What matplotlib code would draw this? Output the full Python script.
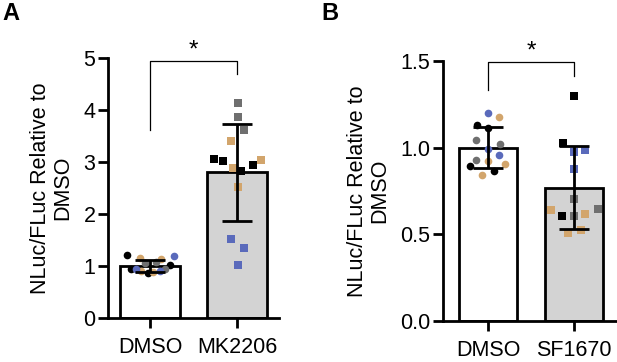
import matplotlib
matplotlib.use('Agg')
import matplotlib.pyplot as plt
import numpy as np

plt.rcParams['font.family'] = ['Liberation Sans', 'DejaVu Sans']

# colours of the replicate groups
BLACK = '#000000'
TAN = '#d2a56c'
GRAY = '#6f6f6f'
BLUE = '#5a6abb'
BAR_GRAY = '#d3d3d3'

# ---- panel A data ----
a_groups = ['DMSO', 'MK2206']
a_mean = [1.0, 2.80]
a_sd = [0.12, 0.93]
a_dmso_y = [1.22, 0.94, 0.86, 1.01, 1.15, 1.13, 0.91, 0.88, 1.05, 1.07, 0.94, 1.20, 0.94, 0.91]
a_dmso_dx = [-0.27, -0.22, -0.02, 0.23, -0.12, 0.13, -0.10, 0.04, -0.06, 0.07, 0.17, 0.28, -0.16, 0.11]
a_dmso_c = [BLACK] * 4 + [TAN] * 4 + [GRAY] * 3 + [BLUE] * 3
a_mk_y = [4.13, 3.87, 3.62, 3.41, 2.89, 3.04, 2.51, 3.05, 3.01, 2.83, 2.94, 1.52, 1.34, 1.02]
a_mk_dx = [0.01, 0.01, 0.08, -0.07, -0.05, 0.28, 0.01, -0.27, -0.16, 0.05, 0.18, -0.07, 0.08, 0.01]
a_mk_c = [GRAY] * 3 + [TAN] * 4 + [BLACK] * 4 + [BLUE] * 3

# ---- panel B data ----
b_groups = ['DMSO', 'SF1670']
b_mean = [1.0, 0.77]
b_sd = [0.118, 0.242]
b_dmso_y = [1.199, 0.994, 0.956, 1.176, 0.921, 0.908, 0.845, 1.128, 1.113, 0.892, 0.864, 1.042, 1.023, 0.927]
b_dmso_dx = [0.0, 0.0, 0.13, 0.13, 0.0, 0.20, -0.07, -0.13, 0.0, -0.21, 0.07, -0.14, 0.14, -0.14]
b_dmso_c = [BLUE] * 3 + [TAN] * 4 + [BLACK] * 4 + [GRAY] * 3
b_sf_y = [1.297, 1.026, 0.606, 0.975, 0.988, 0.879, 0.701, 0.649, 0.604, 0.643, 0.620, 0.505, 0.524]
b_sf_dx = [0.0, -0.13, -0.14, 0.0, 0.13, 0.0, 0.0, 0.28, 0.0, -0.27, 0.13, -0.07, 0.08]
b_sf_c = [BLACK] * 3 + [BLUE] * 3 + [GRAY] * 3 + [TAN] * 4

LW = 2.0
FS = 15.5


def draw_panel(ax, groups, means, sds, pts, ylim, yticks, yticklabels, bracket, star_y, xlim):
    x = np.arange(len(groups))
    ax.bar(x, means, width=0.68, color=['white', BAR_GRAY], edgecolor='black', linewidth=LW, zorder=1)
    for i, (ys, dxs, cs) in enumerate(pts):
        marker = 'o' if i == 0 else 's'
        for y, dx, c in zip(ys, dxs, cs):
            ax.plot(i + dx, y, marker, color=c, markersize=5.5, markeredgewidth=0, zorder=2, clip_on=False)
    ax.errorbar(x, means, yerr=sds, fmt='none', ecolor='black', elinewidth=LW, capsize=10.5, capthick=LW, zorder=3)

    # significance bracket
    top, left_bot, right_bot = bracket
    ax.plot([0, 0, 1, 1], [left_bot, top, top, right_bot], color='black', linewidth=0.9, clip_on=False)
    ax.text(0.5, star_y, '*', ha='center', va='center', fontsize=FS + 2)

    ax.set_xlim(*xlim)
    ax.set_ylim(*ylim)
    ax.set_yticks(yticks)
    ax.set_yticklabels(yticklabels, fontsize=FS)
    ax.set_xticks(x)
    ax.set_xticklabels(groups, fontsize=FS)
    ax.spines['top'].set_visible(False)
    ax.spines['right'].set_visible(False)
    for s in ['left', 'bottom']:
        ax.spines[s].set_linewidth(LW)
    ax.tick_params(axis='both', length=7, width=LW, pad=2)
    ax.tick_params(axis='x', pad=7)
    ax.set_ylabel('NLuc/FLuc Relative to\nDMSO', fontsize=FS, labelpad=7, linespacing=1.1)


fig = plt.figure(figsize=(6.17, 3.62), dpi=100)

ax_a = fig.add_axes([108 / 617, 44 / 362, 171 / 617, 260 / 362])
draw_panel(ax_a, a_groups, a_mean, a_sd,
           [(a_dmso_y, a_dmso_dx, a_dmso_c), (a_mk_y, a_mk_dx, a_mk_c)],
           (0, 5), [0, 1, 2, 3, 4, 5], ['0', '1', '2', '3', '4', '5'],
           (4.94, 3.62, 4.69), 5.15, (-0.483, 1.483))

ax_b = fig.add_axes([443 / 617, 41 / 362, 174 / 617, 260 / 362])
draw_panel(ax_b, b_groups, b_mean, b_sd,
           [(b_dmso_y, b_dmso_dx, b_dmso_c), (b_sf_y, b_sf_dx, b_sf_c)],
           (0, 1.5), [0, 0.5, 1.0, 1.5], ['0.0', '0.5', '1.0', '1.5'],
           (1.497, 1.33, 1.416), 1.555, (-0.523, 1.5))

fig.text(2 / 617, 1 - 2 / 362, 'A', fontsize=17, fontweight='bold', va='top', ha='left')
fig.text(321 / 617, 1 - 2 / 362, 'B', fontsize=17, fontweight='bold', va='top', ha='left')

fig.savefig('out.png', dpi=100)
